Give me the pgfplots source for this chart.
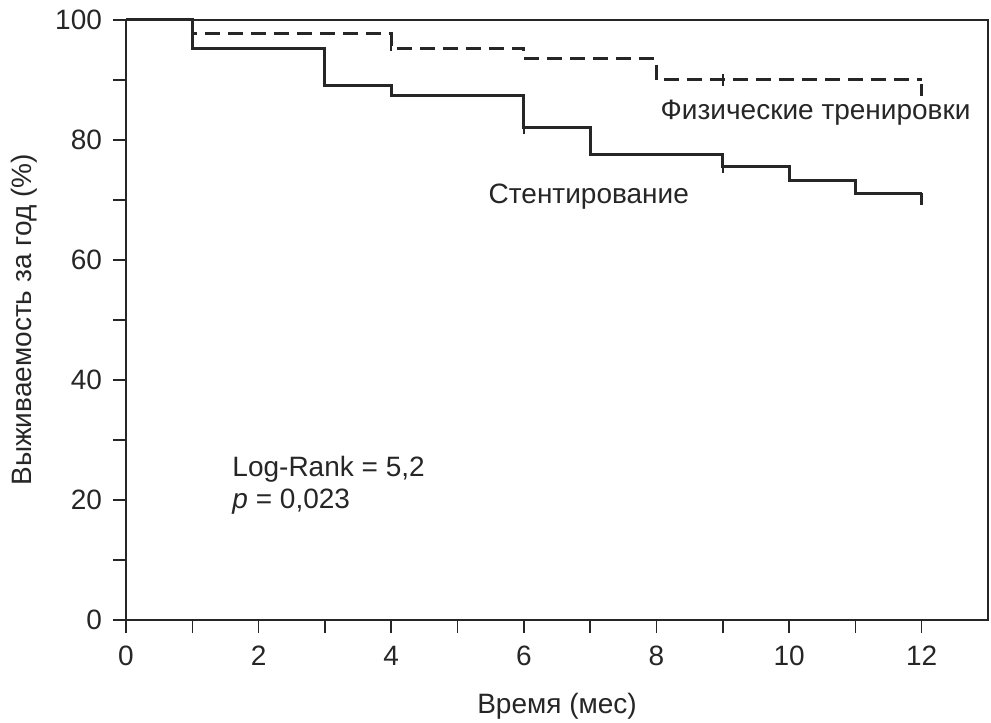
\documentclass[border=0pt]{standalone}
\usepackage{fontspec}
\setmainfont{Liberation Sans}
\usepackage{pgfplots}
\pgfplotsset{compat=1.18}
\begin{document}
\begin{tikzpicture}
\path[use as bounding box] (-63pt,-51.5pt) rectangle (432.5pt,310pt);
\begin{axis}[
  scale only axis, width=431pt, height=300pt,
  xmin=0, xmax=13, ymin=0, ymax=100,
  xtick={0,2,...,12}, minor xtick={1,3,...,11},
  ytick={0,20,...,100}, minor ytick={10,30,...,90},
  tick align=outside, tick pos=left,
  major tick length=6.5pt, minor tick length=6.5pt,
  every tick/.style={black!85, line width=0.8pt},
  axis line style={line width=0.9pt, black!85},
  /pgf/number format/assume math mode=true,
  ticklabel style={font=\fontsize{14}{16}\selectfont, text=black!85},
  xticklabel style={yshift=-3pt},
  yticklabel style={xshift=-2pt},
  label style={font=\fontsize{14}{16}\selectfont, text=black!85},
  xlabel={Время (мес)}, ylabel={Выживаемость за год (\%)},
  xlabel style={anchor=center, at={(axis description cs:0.5,-0.143)}},
  ylabel style={anchor=center, at={(axis description cs:-0.118,0.5)}},
  clip=false,
]
% Stenting (solid)
\addplot[const plot, line width=1.5pt, black!85] coordinates {
 (0,100) (1,95.3) (3,89) (4,87.4) (6,82) (7,77.5) (9,75.5) (10,73.3) (11,71) (12,71)};
% Physical training (dashed)
\addplot[const plot, line width=1.5pt, black!85, dash pattern=on 7.5pt off 4pt] coordinates {
 (0,100) (1,97.8) (4,95.3) (6,93.5) (8,90) (12,90)};
% censor marks
\addplot[only marks, mark=|, mark size=3pt, mark options={line width=1.2pt, black!85}] coordinates {
 (6,82) (9,75.5) (12,70.2) (4,95.8) (9,90) (12,88.3)};
\node[font=\fontsize{14}{16}\selectfont, text=black!85] at (axis cs:10.4,84.5) {Физические тренировки};
\node[font=\fontsize{14}{16}\selectfont, text=black!85] at (axis cs:6.98,70.5) {Стентирование};
\node[font=\fontsize{14}{16}\selectfont, text=black!85, anchor=west, align=left, inner sep=0pt] at (axis cs:1.6,22.4) {Log-Rank = 5,2\\\textit{p} = 0,023};
\end{axis}
\end{tikzpicture}
\end{document}
